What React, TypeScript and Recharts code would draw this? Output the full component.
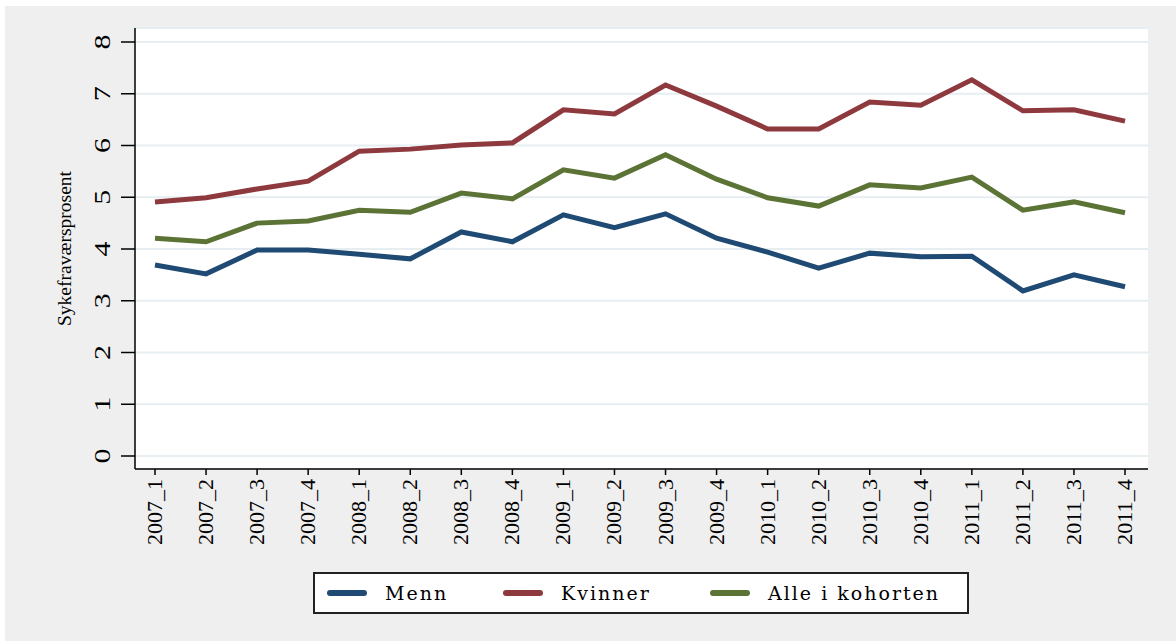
import { LineChart, Line, XAxis, YAxis, CartesianGrid, Legend } from 'recharts';

const quarters = [
  '2007_1', '2007_2', '2007_3', '2007_4',
  '2008_1', '2008_2', '2008_3', '2008_4',
  '2009_1', '2009_2', '2009_3', '2009_4',
  '2010_1', '2010_2', '2010_3', '2010_4',
  '2011_1', '2011_2', '2011_3', '2011_4',
];

const menn = [3.69, 3.52, 3.98, 3.98, 3.9, 3.81, 4.33, 4.14, 4.66, 4.41, 4.68, 4.21, 3.94, 3.63, 3.92, 3.85, 3.86, 3.19, 3.5, 3.27];
const kvinner = [4.91, 4.99, 5.16, 5.31, 5.89, 5.93, 6.01, 6.05, 6.69, 6.61, 7.17, 6.76, 6.32, 6.32, 6.84, 6.78, 7.27, 6.67, 6.69, 6.47];
const alle = [4.21, 4.14, 4.5, 4.54, 4.75, 4.71, 5.08, 4.97, 5.53, 5.37, 5.82, 5.35, 4.99, 4.83, 5.24, 5.18, 5.39, 4.75, 4.91, 4.7];

const yTicks = [0, 1, 2, 3, 4, 5, 6, 7, 8];

const SERIES = [
  { key: 'menn', name: 'Menn', color: '#1f4a73' },
  { key: 'kvinner', name: 'Kvinner', color: '#8e393e' },
  { key: 'alle', name: 'Alle i kohorten', color: '#5c7336' },
];

const data = quarters.map((q, i) => ({
  q,
  menn: menn[i],
  kvinner: kvinner[i],
  alle: alle[i],
}));

const FONT = '"Liberation Serif", "Times New Roman", serif';
const LEGEND_FONT = '"DejaVu Serif", "Liberation Serif", serif';

function YTick({ x, y, payload }: any) {
  return (
    <text
      transform={`translate(${x - 17},${y}) rotate(-90)`}
      textAnchor="middle"
      dominantBaseline="central"
      fontFamily={FONT}
      fontSize={23}
      textLength={15}
      lengthAdjust="spacingAndGlyphs"
      fill="#000"
    >
      {payload.value}
    </text>
  );
}

function XTick({ x, y, payload }: any) {
  return (
    <text
      transform={`translate(${x},${y + 1}) rotate(-90)`}
      textAnchor="end"
      dominantBaseline="central"
      fontFamily={FONT}
      fontSize={20}
      textLength={66}
      lengthAdjust="spacingAndGlyphs"
      fill="#000"
    >
      {payload.value}
    </text>
  );
}

function YLabel({ viewBox }: any) {
  const cy = viewBox.y + viewBox.height / 2;
  return (
    <text
      transform={`translate(60,${cy}) rotate(-90)`}
      textAnchor="middle"
      dominantBaseline="central"
      fontFamily={FONT}
      fontSize={18}
      textLength={155}
      lengthAdjust="spacingAndGlyphs"
      fill="#000"
    >
      Sykefraværsprosent
    </text>
  );
}

function LegendBox() {
  return (
    <div style={{ height: 69, paddingLeft: 308, boxSizing: 'border-box' }}>
      <div
        style={{
          width: 656,
          height: 42,
          boxSizing: 'border-box',
          border: '2px solid #222',
          background: '#fff',
          position: 'relative',
          fontFamily: LEGEND_FONT,
          fontSize: 19,
          letterSpacing: 2,
          color: '#000',
        }}
      >
        {SERIES.map((s, i) => {
          const left = [12, 188, 395][i];
          return (
            <div
              key={s.key}
              style={{ position: 'absolute', left, top: 0, height: 38, display: 'flex', alignItems: 'center' }}
            >
              <span
                style={{ display: 'inline-block', width: 40, height: 6, borderRadius: 3, background: s.color, marginRight: 18 }}
              />
              <span>{s.name}</span>
            </div>
          );
        })}
      </div>
    </div>
  );
}

export default function App() {
  return (
    <div style={{ position: 'absolute', left: 5, top: 6, width: 1171, height: 635, background: '#efefef' }}>
      <LineChart width={1171} height={635} data={data} margin={{ top: 22, right: 28, bottom: 0, left: 0 }}>
        <CartesianGrid horizontal vertical={false} stroke="#e6eef1" strokeWidth={2} fill="#fff" />
        <XAxis
          dataKey="q"
          interval={0}
          height={103}
          padding={{ left: 20, right: 23 }}
          axisLine={{ stroke: '#000', strokeWidth: 1.5 }}
          tickLine={{ stroke: '#000', strokeWidth: 1.5 }}
          tickSize={6}
          tickMargin={3}
          tick={<XTick />}
        />
        <YAxis
          width={130}
          domain={[0, 8]}
          ticks={yTicks}
          interval={0}
          padding={{ top: 14, bottom: 13 }}
          axisLine={{ stroke: '#000', strokeWidth: 1.5 }}
          tickLine={{ stroke: '#000', strokeWidth: 1.5 }}
          tickSize={14}
          tick={<YTick />}
          label={<YLabel />}
        />
        {SERIES.map((s) => (
          <Line
            key={s.key}
            type="linear"
            dataKey={s.key}
            name={s.name}
            stroke={s.color}
            strokeWidth={5}
            dot={false}
            activeDot={false}
            isAnimationActive={false}
          />
        ))}
        <Legend
          verticalAlign="bottom"
          align="left"
          content={<LegendBox />}
          wrapperStyle={{ left: 0, bottom: 0, width: 1171 }}
        />
      </LineChart>
    </div>
  );
}
